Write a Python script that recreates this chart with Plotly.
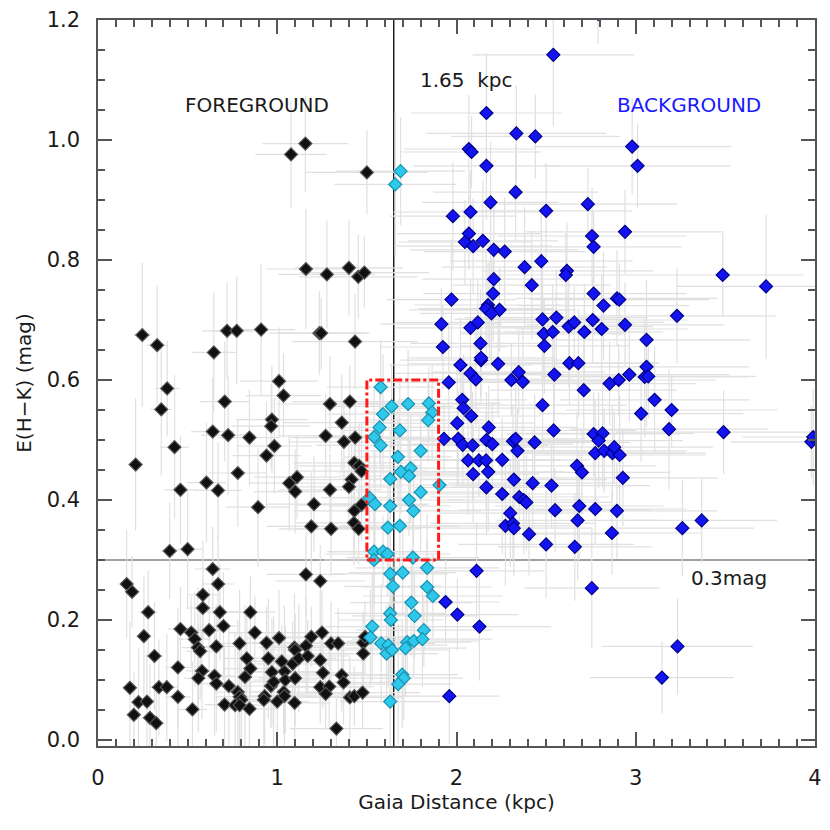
import plotly.graph_objects as go

# Foreground stars (d < 1.5 kpc)
FG_DIST = [
    0.40, 0.50, 0.64, 0.16, 0.19, 0.67, 1.16, 1.24, 0.585, 0.585,
    0.28, 0.68, 0.85, 0.70, 0.46, 0.256, 0.52, 0.54, 0.62, 0.875,
    1.01, 1.19, 1.25, 0.79, 0.94, 0.557, 0.57, 0.66, 1.096, 1.10,
    1.16, 1.30, 1.34, 1.48, 1.49, 1.48, 0.315, 0.83, 0.95, 1.025,
    1.086, 1.12, 1.17, 1.24, 0.446, 0.58, 0.85, 0.97, 1.04, 1.255,
    0.56, 0.65, 0.66, 0.82, 0.965, 0.98, 1.045, 1.10, 0.73, 1.36,
    1.37, 0.178, 0.34, 0.384, 1.24, 1.29, 0.446, 0.78, 0.79, 0.80,
    0.93, 0.925, 1.036, 1.04, 1.27, 1.405, 1.43, 1.476, 0.226, 0.273,
    0.706, 0.765, 0.79, 0.845, 1.0, 1.097, 0.527, 0.20, 0.29, 0.325,
    1.33, 0.247, 0.33, 0.72, 0.774, 0.91, 1.235, 1.245, 1.434, 0.646,
    1.01, 0.386, 1.035, 0.353, 0.707, 1.294, 1.405, 0.97, 0.966, 1.36,
    0.64, 0.726, 0.845, 1.27, 1.435, 1.372, 0.427, 0.984, 0.94, 0.21,
    1.43, 1.457, 1.47, 0.78, 1.11, 1.067, 0.605, 1.415, 1.40, 0.46,
    0.67, 1.10, 1.294, 0.893, 1.205, 1.43, 1.47, 1.19, 1.30, 1.428,
    1.454, 1.077, 1.157, 1.50, 1.16, 1.277, 1.40, 1.452, 1.486]
FG_EHK = [
    0.315, 0.318, 0.285, 0.26, 0.247, 0.26, 0.276, 0.265, 0.242, 0.22,
    0.213, 0.213, 0.213, 0.19, 0.185, 0.173, 0.179, 0.168, 0.183, 0.179,
    0.17, 0.172, 0.179, 0.161, 0.162, 0.154, 0.148, 0.156, 0.154, 0.15,
    0.157, 0.161, 0.161, 0.162, 0.172, 0.144, 0.14, 0.136, 0.136, 0.131,
    0.127, 0.136, 0.14, 0.133, 0.121, 0.115, 0.119, 0.113, 0.114, 0.112,
    0.103, 0.107, 0.094, 0.105, 0.09, 0.097, 0.10, 0.103, 0.09, 0.108,
    0.096, 0.087, 0.088, 0.088, 0.088, 0.089, 0.072, 0.08, 0.072, 0.067,
    0.073, 0.067, 0.08, 0.073, 0.077, 0.071, 0.073, 0.079, 0.063, 0.064,
    0.059, 0.058, 0.058, 0.052, 0.064, 0.062, 0.051, 0.042, 0.037, 0.028,
    0.019, 0.675, 0.658, 0.682, 0.682, 0.684, 0.678, 0.678, 0.664, 0.646,
    0.598, 0.586, 0.574, 0.551, 0.564, 0.56, 0.564, 0.534, 0.523, 0.529,
    0.514, 0.508, 0.504, 0.507, 0.504, 0.497, 0.488, 0.49, 0.474, 0.459,
    0.462, 0.457, 0.448, 0.445, 0.438, 0.428, 0.429, 0.434, 0.422, 0.417,
    0.416, 0.414, 0.417, 0.388, 0.393, 0.382, 0.392, 0.356, 0.352, 0.362,
    0.352, 0.976, 0.994, 0.946, 0.785, 0.776, 0.787, 0.772, 0.779]
FG_DIST_ERR = [
    0.05, 0.08, 0.10, 0.03, 0.04, 0.09, 0.22, 0.25, 0.08, 0.09,
    0.05, 0.12, 0.14, 0.10, 0.07, 0.04, 0.08, 0.09, 0.10, 0.15,
    0.18, 0.22, 0.24, 0.12, 0.16, 0.09, 0.08, 0.10, 0.20, 0.19,
    0.21, 0.26, 0.27, 0.32, 0.30, 0.33, 0.05, 0.13, 0.17, 0.19,
    0.20, 0.21, 0.23, 0.25, 0.07, 0.09, 0.15, 0.17, 0.19, 0.24,
    0.08, 0.11, 0.10, 0.14, 0.16, 0.18, 0.18, 0.20, 0.12, 0.28,
    0.27, 0.03, 0.05, 0.06, 0.22, 0.25, 0.07, 0.13, 0.14, 0.12,
    0.16, 0.15, 0.19, 0.18, 0.24, 0.29, 0.30, 0.32, 0.04, 0.04,
    0.11, 0.12, 0.14, 0.15, 0.18, 0.20, 0.08, 0.03, 0.05, 0.05,
    0.26, 0.05, 0.06, 0.14, 0.15, 0.19, 0.28, 0.25, 0.35, 0.12,
    0.22, 0.07, 0.21, 0.06, 0.14, 0.30, 0.32, 0.20, 0.22, 0.33,
    0.12, 0.15, 0.17, 0.27, 0.36, 0.31, 0.08, 0.21, 0.19, 0.04,
    0.34, 0.35, 0.37, 0.16, 0.24, 0.22, 0.11, 0.33, 0.30, 0.09,
    0.13, 0.23, 0.29, 0.18, 0.26, 0.34, 0.36, 0.25, 0.29, 0.33,
    0.35, 0.20, 0.24, 0.34, 0.22, 0.27, 0.30, 0.33, 0.36]
FG_EHK_ERR = [
    0.08, 0.10, 0.07, 0.09, 0.06, 0.08, 0.07, 0.06, 0.09, 0.05,
    0.07, 0.08, 0.06, 0.09, 0.07, 0.10, 0.06, 0.08, 0.07, 0.06,
    0.08, 0.05, 0.07, 0.09, 0.06, 0.10, 0.08, 0.07, 0.09, 0.06,
    0.08, 0.07, 0.06, 0.05, 0.06, 0.07, 0.09, 0.08, 0.10, 0.06,
    0.07, 0.09, 0.06, 0.08, 0.10, 0.08, 0.07, 0.09, 0.11, 0.06,
    0.09, 0.10, 0.08, 0.12, 0.07, 0.11, 0.09, 0.08, 0.10, 0.06,
    0.07, 0.11, 0.08, 0.09, 0.06, 0.07, 0.10, 0.12, 0.09, 0.11,
    0.08, 0.10, 0.07, 0.09, 0.06, 0.07, 0.05, 0.06, 0.09, 0.08,
    0.10, 0.12, 0.11, 0.09, 0.08, 0.07, 0.08, 0.07, 0.09, 0.06,
    0.05, 0.12, 0.10, 0.08, 0.09, 0.11, 0.07, 0.06, 0.08, 0.10,
    0.09, 0.08, 0.07, 0.11, 0.10, 0.08, 0.06, 0.09, 0.07, 0.08,
    0.09, 0.10, 0.08, 0.07, 0.06, 0.07, 0.12, 0.08, 0.09, 0.11,
    0.06, 0.07, 0.08, 0.09, 0.07, 0.08, 0.10, 0.06, 0.07, 0.09,
    0.08, 0.07, 0.06, 0.10, 0.08, 0.07, 0.06, 0.09, 0.08, 0.07,
    0.06, 0.09, 0.08, 0.07, 0.10, 0.09, 0.08, 0.07, 0.06]

# Selected stars around the 1.65 kpc jump (1.5 - 1.9 kpc)
SEL_DIST = [
    1.577, 1.638, 1.73, 1.846, 1.864, 1.842, 1.59, 1.571, 1.54, 1.577,
    1.684, 1.80, 1.673, 1.69, 1.744, 1.735, 1.63, 1.905, 1.80, 1.735,
    1.514, 1.545, 1.63, 1.76, 1.617, 1.684, 1.54, 1.59, 1.615, 1.757,
    1.54, 1.63, 1.70, 1.836, 1.645, 1.836, 1.868, 1.748, 1.63, 1.634,
    1.766, 1.53, 1.52, 1.818, 1.58, 1.62, 1.61, 1.64, 1.725, 1.716,
    1.762, 1.81, 1.697, 1.706, 1.675, 1.63, 1.658, 1.688]
SEL_EHK = [
    0.588, 0.556, 0.56, 0.561, 0.546, 0.533, 0.543, 0.521, 0.505, 0.491,
    0.516, 0.482, 0.472, 0.447, 0.453, 0.44, 0.435, 0.425, 0.413, 0.40,
    0.404, 0.393, 0.39, 0.382, 0.354, 0.357, 0.314, 0.314, 0.31, 0.304,
    0.30, 0.277, 0.279, 0.287, 0.256, 0.255, 0.24, 0.229, 0.211, 0.20,
    0.207, 0.189, 0.171, 0.183, 0.161, 0.158, 0.144, 0.15, 0.163, 0.153,
    0.165, 0.168, 0.109, 0.103, 0.093, 0.064, 0.926, 0.948]
SEL_DIST_ERR = [
    0.30, 0.35, 0.28, 0.40, 0.38, 0.33, 0.31, 0.29, 0.34, 0.36,
    0.32, 0.37, 0.30, 0.35, 0.33, 0.39, 0.28, 0.42, 0.36, 0.31,
    0.27, 0.30, 0.34, 0.38, 0.29, 0.33, 0.26, 0.31, 0.35, 0.37,
    0.28, 0.32, 0.30, 0.40, 0.27, 0.36, 0.39, 0.34, 0.31, 0.29,
    0.35, 0.26, 0.28, 0.38, 0.30, 0.33, 0.29, 0.32, 0.36, 0.34,
    0.37, 0.39, 0.31, 0.33, 0.30, 0.28, 0.34, 0.36]
SEL_EHK_ERR = [
    0.08, 0.07, 0.09, 0.06, 0.08, 0.07, 0.10, 0.06, 0.08, 0.07,
    0.09, 0.06, 0.08, 0.07, 0.09, 0.06, 0.08, 0.07, 0.10, 0.06,
    0.07, 0.09, 0.08, 0.06, 0.07, 0.08, 0.09, 0.06, 0.07, 0.08,
    0.10, 0.08, 0.07, 0.09, 0.06, 0.08, 0.07, 0.09, 0.10, 0.08,
    0.07, 0.09, 0.08, 0.06, 0.10, 0.07, 0.08, 0.09, 0.07, 0.08,
    0.06, 0.08, 0.09, 0.07, 0.10, 0.08, 0.12, 0.09]

# Background stars (d > 1.9 kpc)
BG_DIST = [
    2.022, 2.137, 2.232, 2.078, 2.108, 1.957, 2.347, 2.306, 2.37, 2.546,
    2.032, 2.04, 2.082, 2.48, 2.004, 2.18, 2.542, 1.93, 2.01, 2.035,
    2.09, 2.167, 2.20, 2.315, 2.33, 2.436, 2.34, 2.065, 2.125, 2.165,
    2.255, 2.177, 2.093, 2.32, 2.425, 2.53, 2.167, 2.255, 2.35, 2.375,
    2.39, 2.55, 2.30, 2.273, 2.315, 2.32, 2.405, 2.50, 2.112, 1.939,
    2.005, 2.128, 1.96, 2.54, 2.167, 2.334, 2.44, 2.069, 2.084, 2.98,
    3.01, 2.167, 2.33, 2.19, 2.733, 2.078, 1.98, 2.50, 2.069, 2.047,
    2.093, 2.147, 2.208, 2.269, 2.756, 2.765, 2.94, 2.473, 2.38, 2.616,
    2.61, 2.208, 2.42, 2.204, 1.972, 2.765, 2.895, 2.908, 2.82, 2.176,
    2.185, 2.165, 2.24, 2.195, 1.916, 2.078, 2.119, 2.48, 2.557, 2.626,
    2.657, 2.76, 2.81, 2.713, 2.94, 3.06, 2.487, 2.537, 2.134, 1.924,
    2.49, 2.137, 2.63, 2.68, 3.06, 3.485, 3.727, 3.23, 2.71, 2.854,
    2.905, 2.964, 3.05, 3.07, 3.105, 3.03, 3.20, 2.765, 2.815, 2.793,
    3.186, 3.49, 3.98, 3.99, 2.774, 2.824, 2.87, 2.88, 2.91, 2.672,
    2.70, 2.928, 2.685, 2.774, 2.895, 2.676, 2.867, 2.66, 3.26, 3.368,
    2.755, 3.233, 3.146, 2.79]
BG_EHK = [
    0.625, 0.633, 0.627, 0.611, 0.601, 0.596, 0.613, 0.60, 0.597, 0.609,
    0.567, 0.553, 0.54, 0.558, 0.528, 0.521, 0.516, 0.502, 0.502, 0.492,
    0.491, 0.50, 0.493, 0.498, 0.502, 0.496, 0.482, 0.466, 0.466, 0.466,
    0.467, 0.447, 0.443, 0.434, 0.428, 0.424, 0.421, 0.41, 0.405, 0.40,
    0.396, 0.383, 0.378, 0.357, 0.361, 0.353, 0.343, 0.326, 0.282, 0.23,
    0.209, 0.189, 0.073, 1.142, 1.045, 1.011, 1.006, 0.985, 0.98, 0.989,
    0.957, 0.957, 0.913, 0.896, 0.893, 0.88, 0.873, 0.882, 0.844, 0.83,
    0.823, 0.832, 0.817, 0.814, 0.84, 0.822, 0.847, 0.798, 0.788, 0.782,
    0.775, 0.768, 0.758, 0.744, 0.734, 0.744, 0.736, 0.734, 0.724, 0.725,
    0.717, 0.719, 0.717, 0.711, 0.693, 0.687, 0.696, 0.701, 0.704, 0.689,
    0.696, 0.70, 0.685, 0.68, 0.692, 0.667, 0.677, 0.68, 0.661, 0.655,
    0.657, 0.637, 0.628, 0.628, 0.622, 0.775, 0.756, 0.707, 0.583, 0.594,
    0.60, 0.609, 0.605, 0.606, 0.567, 0.544, 0.55, 0.51, 0.511, 0.499,
    0.518, 0.513, 0.497, 0.505, 0.478, 0.482, 0.478, 0.488, 0.475, 0.457,
    0.446, 0.437, 0.39, 0.385, 0.382, 0.366, 0.345, 0.322, 0.353, 0.366,
    0.253, 0.156, 0.104, 1.21]
BG_DIST_ERR = [
    0.40, 0.45, 0.50, 0.42, 0.38, 0.35, 0.48, 0.52, 0.44, 0.55,
    0.36, 0.41, 0.39, 0.47, 0.43, 0.50, 0.46, 0.33, 0.37, 0.40,
    0.42, 0.48, 0.45, 0.51, 0.39, 0.53, 0.44, 0.38, 0.46, 0.41,
    0.49, 0.43, 0.37, 0.52, 0.47, 0.55, 0.40, 0.45, 0.50, 0.42,
    0.48, 0.54, 0.41, 0.39, 0.46, 0.44, 0.51, 0.49, 0.38, 0.30,
    0.34, 0.40, 0.28, 0.45, 0.42, 0.50, 0.47, 0.36, 0.39, 0.55,
    0.52, 0.41, 0.46, 0.38, 0.50, 0.43, 0.35, 0.48, 0.40, 0.37,
    0.44, 0.42, 0.47, 0.45, 0.53, 0.49, 0.55, 0.51, 0.46, 0.48,
    0.43, 0.40, 0.44, 0.39, 0.36, 0.52, 0.56, 0.50, 0.48, 0.41,
    0.45, 0.38, 0.43, 0.40, 0.34, 0.42, 0.46, 0.49, 0.51, 0.47,
    0.50, 0.53, 0.48, 0.44, 0.55, 0.58, 0.46, 0.52, 0.39, 0.35,
    0.47, 0.41, 0.50, 0.45, 0.57, 0.45, 0.50, 0.55, 0.52, 0.48,
    0.54, 0.56, 0.58, 0.60, 0.53, 0.57, 0.59, 0.49, 0.51, 0.47,
    0.55, 0.60, 0.45, 0.40, 0.50, 0.46, 0.52, 0.55, 0.48, 0.44,
    0.49, 0.53, 0.47, 0.51, 0.56, 0.45, 0.50, 0.43, 0.40, 0.42,
    0.38, 0.42, 0.40, 0.45]
BG_EHK_ERR = [
    0.08, 0.07, 0.09, 0.06, 0.08, 0.10, 0.07, 0.06, 0.09, 0.08,
    0.07, 0.09, 0.06, 0.08, 0.10, 0.07, 0.09, 0.06, 0.08, 0.07,
    0.09, 0.08, 0.07, 0.06, 0.10, 0.08, 0.07, 0.09, 0.06, 0.08,
    0.07, 0.10, 0.08, 0.06, 0.09, 0.07, 0.08, 0.10, 0.06, 0.09,
    0.08, 0.07, 0.09, 0.10, 0.06, 0.08, 0.07, 0.09, 0.08, 0.07,
    0.06, 0.09, 0.08, 0.12, 0.10, 0.08, 0.07, 0.09, 0.06, 0.08,
    0.07, 0.09, 0.08, 0.10, 0.06, 0.07, 0.09, 0.08, 0.06, 0.07,
    0.08, 0.10, 0.07, 0.09, 0.08, 0.06, 0.07, 0.09, 0.10, 0.08,
    0.07, 0.06, 0.09, 0.08, 0.10, 0.07, 0.08, 0.06, 0.09, 0.07,
    0.08, 0.10, 0.07, 0.09, 0.06, 0.08, 0.07, 0.09, 0.08, 0.10,
    0.06, 0.07, 0.09, 0.08, 0.07, 0.10, 0.06, 0.08, 0.09, 0.07,
    0.08, 0.06, 0.07, 0.09, 0.10, 0.07, 0.12, 0.08, 0.09, 0.07,
    0.06, 0.08, 0.10, 0.07, 0.09, 0.08, 0.06, 0.07, 0.09, 0.08,
    0.10, 0.07, 0.06, 0.08, 0.09, 0.07, 0.08, 0.06, 0.10, 0.09,
    0.07, 0.08, 0.09, 0.06, 0.08, 0.10, 0.07, 0.09, 0.08, 0.07,
    0.10, 0.08, 0.06, 0.05]

JUMP_DIST = 1.65
EHK_CUT = 0.3
BOX_DIST = [1.5, 1.9]
BOX_EHK = [0.3, 0.6]

groups = [
    (FG_DIST, FG_EHK, FG_DIST_ERR, FG_EHK_ERR, '#111111', '#555555'),
    (SEL_DIST, SEL_EHK, SEL_DIST_ERR, SEL_EHK_ERR, '#2ec8ea', '#1590b0'),
    (BG_DIST, BG_EHK, BG_DIST_ERR, BG_EHK_ERR, '#1414f0', '#00008a'),
]
for g in groups:
    assert len(g[0]) == len(g[1]) == len(g[2]) == len(g[3])

FONT = 'DejaVu Sans'
ERR_COLOR = '#e0e0e0'
TXT = '#1a1a1a'

fig = go.Figure()

# error bars first, so that every marker sits above every bar
for xs, ys, ex, ey, _, _ in groups:
    fig.add_trace(go.Scatter(
        x=xs, y=ys, mode='markers',
        marker=dict(size=1, color='rgba(0,0,0,0)'),
        error_x=dict(type='data', array=ex, color=ERR_COLOR, thickness=1.2, width=0),
        error_y=dict(type='data', array=ey, color=ERR_COLOR, thickness=1.2, width=0),
        hoverinfo='skip', showlegend=False,
    ))

for xs, ys, _, _, fill, edge in groups:
    fig.add_trace(go.Scatter(
        x=xs, y=ys, mode='markers',
        marker=dict(symbol='diamond', size=10, color=fill,
                    line=dict(color=edge, width=1.2)),
        showlegend=False,
    ))

# reference lines and selection box
fig.add_shape(type='line', x0=JUMP_DIST, x1=JUMP_DIST, y0=-0.01, y1=1.2,
              line=dict(color='black', width=1.3), layer='below')
fig.add_shape(type='line', x0=0, x1=4, y0=EHK_CUT, y1=EHK_CUT,
              line=dict(color='#808080', width=1.5), layer='below')
fig.add_shape(type='rect', x0=BOX_DIST[0], x1=BOX_DIST[1], y0=BOX_EHK[0], y1=BOX_EHK[1],
              line=dict(color='#ff1a1a', width=3, dash='dashdot'), layer='above')

fig.add_annotation(x=2.056, y=1.10, text='1.65  kpc', showarrow=False,
                   font=dict(family=FONT, size=20, color=TXT))
fig.add_annotation(x=0.886, y=1.058, text='FOREGROUND', showarrow=False,
                   font=dict(family=FONT, size=20, color=TXT))
fig.add_annotation(x=3.298, y=1.058, text='BACKGROUND', showarrow=False,
                   font=dict(family=FONT, size=20, color='#1a1aff'))
fig.add_annotation(x=3.52, y=0.27, text='0.3mag', showarrow=False,
                   font=dict(family=FONT, size=20, color=TXT))

axis_common = dict(
    showgrid=False, zeroline=False, showline=True, linecolor='#555555', linewidth=1.5,
    mirror='allticks', ticks='inside', tickcolor='#555555', tickwidth=1.5, ticklen=14,
    tickfont=dict(family=FONT, size=21, color=TXT),
    automargin=False,
)

# the page body adds an 8px offset, so margins are trimmed by that amount
fig.update_layout(
    width=822, height=822,
    margin=dict(l=90, r=15, t=12, b=84),
    plot_bgcolor='white', paper_bgcolor='white',
    font=dict(family=FONT),
    xaxis=dict(
        range=[0, 4], tickvals=[0, 1, 2, 3, 4], ticktext=['0', '1', '2', '3', '4'],
        ticklabelstandoff=12,
        minor=dict(dtick=0.1, ticks='inside', ticklen=7, tickcolor='#555555', showgrid=False),
        title=dict(text='Gaia Distance (kpc)', font=dict(family=FONT, size=20, color=TXT),
                   standoff=4),
        **axis_common,
    ),
    yaxis=dict(
        range=[-0.01, 1.2], tickvals=[0, 0.2, 0.4, 0.6, 0.8, 1.0, 1.2], tickformat='.1f',
        ticklabelstandoff=12,
        minor=dict(tickvals=[i * 0.05 for i in range(25)], ticks='inside', ticklen=7,
                   tickcolor='#555555', showgrid=False),
        title=dict(text='E(H\u2212K) (mag)', font=dict(family=FONT, size=20, color=TXT),
                   standoff=10),
        **axis_common,
    ),
)

fig.write_html('out.html')
